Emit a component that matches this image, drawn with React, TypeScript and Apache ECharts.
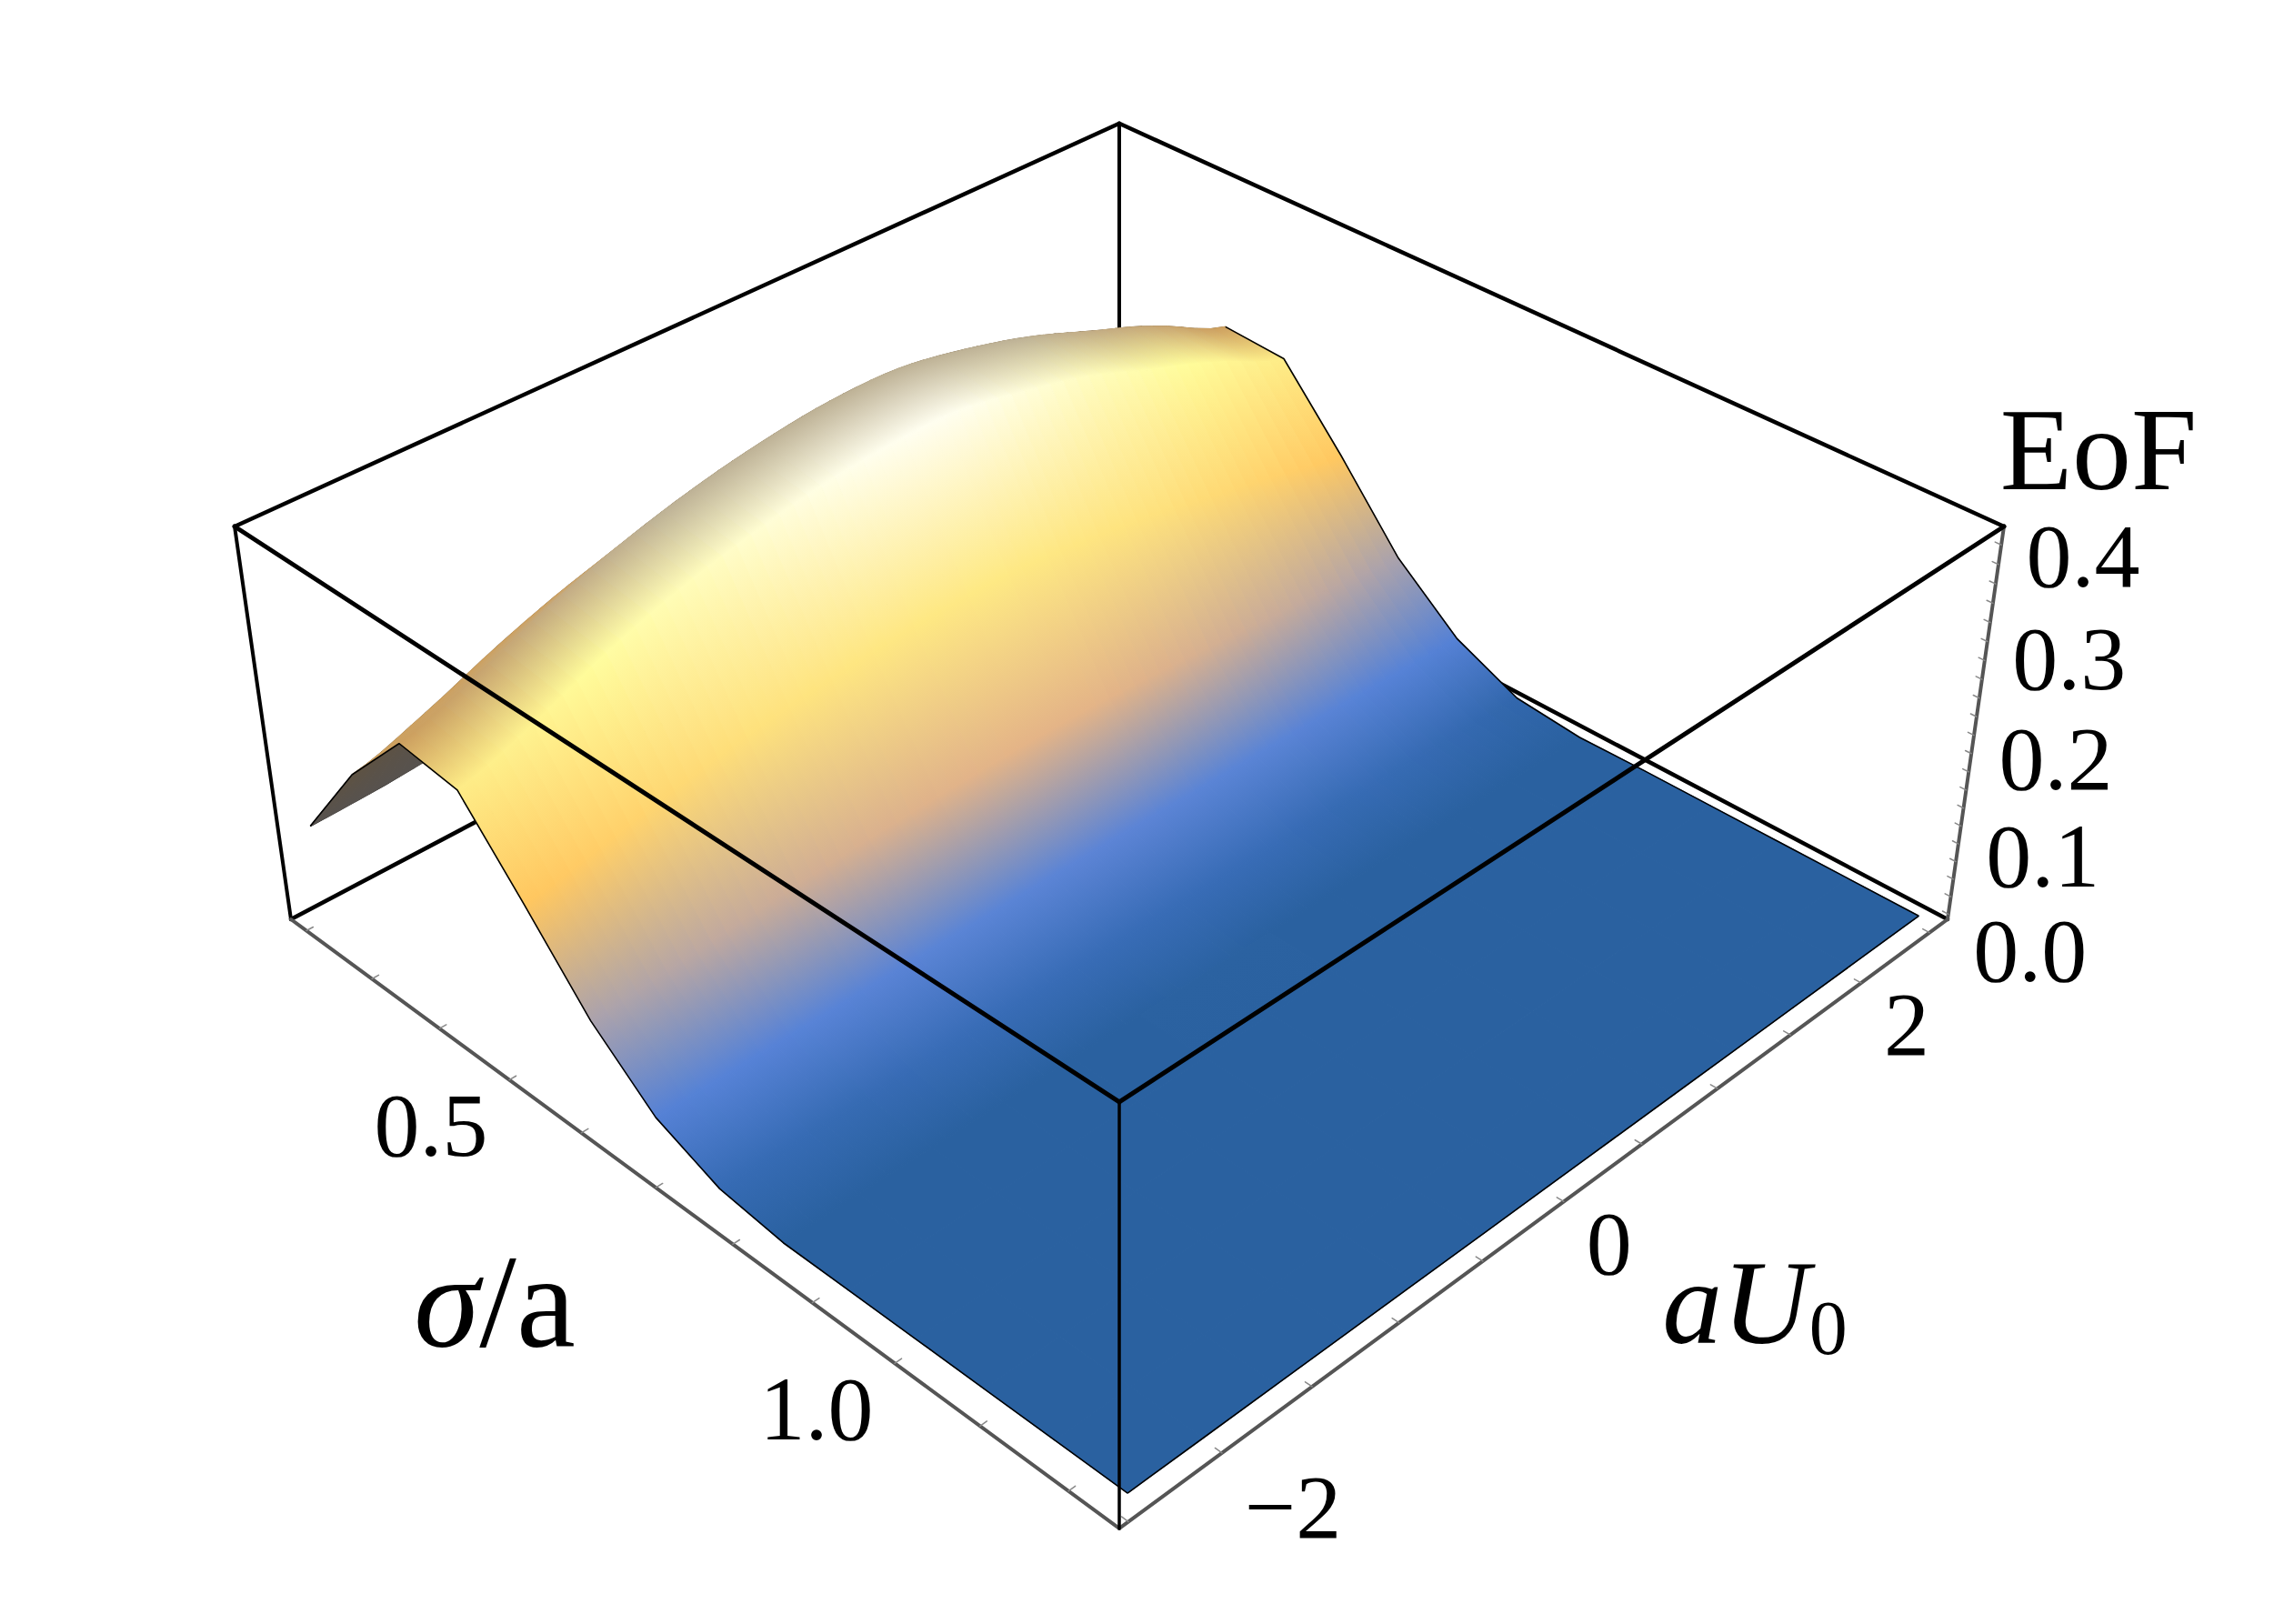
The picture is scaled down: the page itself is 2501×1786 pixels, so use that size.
import React, { useEffect, useRef } from "react";
import * as echarts from "echarts";

const sigmaValues = [0.215, 0.295, 0.375, 0.455, 0.535, 0.615, 0.695, 0.775, 0.855, 0.935, 1.015, 1.095, 1.175, 1.255];
const aU0Values = [-2.5, -2.1, -1.7, -1.3, -0.9, -0.5, -0.1, 0.3, 0.7, 1.1, 1.5, 1.9, 2.4];
const eofRows = [
  [0.115, 0.118, 0.125, 0.14, 0.16, 0.18, 0.19, 0.19, 0.18, 0.165, 0.145, 0.125, 0.115],
  [0.212, 0.237, 0.268, 0.294, 0.312, 0.325, 0.332, 0.332, 0.319, 0.301, 0.276, 0.25, 0.212],
  [0.285, 0.312, 0.345, 0.372, 0.392, 0.406, 0.414, 0.4135, 0.4, 0.38, 0.353, 0.325, 0.283],
  [0.277, 0.303, 0.336, 0.362, 0.381, 0.395, 0.402, 0.402, 0.388, 0.37, 0.343, 0.317, 0.279],
  [0.2, 0.215, 0.233, 0.248, 0.258, 0.266, 0.27, 0.27, 0.262, 0.252, 0.237, 0.222, 0.202],
  [0.12, 0.126, 0.134, 0.14, 0.145, 0.148, 0.15, 0.15, 0.147, 0.142, 0.136, 0.13, 0.119],
  [0.062, 0.063, 0.064, 0.065, 0.066, 0.066, 0.067, 0.067, 0.066, 0.066, 0.065, 0.063, 0.062],
  [0.033, 0.033, 0.033, 0.034, 0.034, 0.034, 0.034, 0.034, 0.034, 0.033, 0.033, 0.032, 0.03],
  [0.024, 0.025, 0.025, 0.025, 0.025, 0.025, 0.026, 0.025, 0.025, 0.025, 0.024, 0.024, 0.023],
  [0.024, 0.024, 0.024, 0.024, 0.024, 0.024, 0.024, 0.024, 0.024, 0.024, 0.024, 0.024, 0.024],
  [0.024, 0.024, 0.024, 0.024, 0.024, 0.024, 0.024, 0.024, 0.024, 0.024, 0.024, 0.024, 0.024],
  [0.024, 0.024, 0.024, 0.024, 0.024, 0.024, 0.024, 0.024, 0.024, 0.024, 0.024, 0.024, 0.024],
  [0.024, 0.024, 0.024, 0.024, 0.024, 0.024, 0.024, 0.024, 0.024, 0.024, 0.024, 0.024, 0.024],
  [0.024, 0.024, 0.024, 0.024, 0.024, 0.024, 0.024, 0.024, 0.024, 0.024, 0.024, 0.024, 0.024],
];
const sigmaTicks = [0.2, 0.3, 0.4, 0.5, 0.6, 0.7, 0.8, 0.9, 1.0, 1.1, 1.2];
const sigmaLabels = ["0.5", "1.0"];
const aU0Ticks = [-2.5, -2, -1.5, -1, -0.5, 0, 0.5, 1, 1.5, 2, 2.5];
const aU0Labels = ["\u22122", "0", "2"];
const eofTicks = [0, 0.02, 0.04, 0.06, 0.08, 0.1, 0.12, 0.14, 0.16, 0.18, 0.2, 0.22, 0.24, 0.26, 0.28, 0.3, 0.32, 0.34, 0.36, 0.38, 0.4];
const eofLabels = ["0.0", "0.1", "0.2", "0.3", "0.4"];

// colour ramp: [EoF, r, g, b]
const ramp = [
  [0.025, 42, 97, 160],
  [0.034, 56, 108, 182],
  [0.063, 86, 130, 214],
  [0.09, 125, 145, 205],
  [0.12, 170, 162, 172],
  [0.15, 228, 180, 135],
  [0.2, 255, 198, 95],
  [0.25, 254, 225, 125],
  [0.28, 254, 236, 135],
  [0.33, 255, 252, 155],
  [0.37, 255, 252, 190],
  [0.4, 255, 254, 235],
  [0.415, 255, 255, 255],
];
const rimEnd = [205, 160, 95];
const rimMid = [190, 178, 150];
const underColors = [[87, 82, 78], [94, 82, 66], [111, 88, 54]];

const SERIF = '"Liberation Serif", "DejaVu Serif", serif';

// box projection
const g = -0.165;
const k = -0.0637;
function projUVZ(u: number, v: number, z: number): [number, number] {
  const d = u - v;
  const W = 1 + g * d + k * z;
  const X = 320 + 707.9 * u + 1114.1 * v - 78.4 * z;
  const Y = 1011 + 392.6 * d - 468.9 * z;
  return [X / W, Y / W];
}
const uOf = (s: number) => (s - 0.176) / 1.08;
const vOf = (a: number) => (a + 2.548) / 5.183;
const zOf = (w: number) => 0.014 + 2.355 * w;
const proj = (s: number, a: number, w: number) => projUVZ(uOf(s), vOf(a), zOf(w));

function rampColor(w: number): number[] {
  if (w <= ramp[0][0]) return ramp[0].slice(1);
  for (let n = 1; n < ramp.length; n++) {
    if (w <= ramp[n][0]) {
      const t = (w - ramp[n - 1][0]) / (ramp[n][0] - ramp[n - 1][0]);
      return [1, 2, 3].map((c) => ramp[n - 1][c] + t * (ramp[n][c] - ramp[n - 1][c]));
    }
  }
  return ramp[ramp.length - 1].slice(1);
}
const rgb = (c: number[]) => `rgb(${Math.round(c[0])},${Math.round(c[1])},${Math.round(c[2])})`;
const mix = (a: number[], b: number[]) => a.map((x, n) => (x + b[n]) / 2);

const vertex = (i: number, j: number) => proj(sigmaValues[i], aU0Values[j], eofRows[i][j]);

// Shading between the read columns: a Gouraud-like sub-strip of one cell.
function eofAt(i: number, j: number, t: number) {
  const r = eofRows[i];
  const n = r.length - 1;
  const p0 = r[Math.max(j - 1, 0)];
  const p1 = r[j];
  const p2 = r[j + 1];
  const p3 = r[Math.min(j + 2, n)];
  return 0.5 * (2 * p1 + (p2 - p0) * t + (2 * p0 - 5 * p1 + 4 * p2 - p3) * t * t + (3 * p1 - p0 - 3 * p2 + p3) * t * t * t);
}
const colourOf = (i: number, w: number) => {
  if (i > 2) return rampColor(w);
  const f = Math.min(1, Math.max(0, (w - 0.285) / 0.1));
  return rimEnd.map((c, n) => c + f * (rimMid[n] - c));
};

const cells: number[][] = [];
for (let i = 0; i < sigmaValues.length - 1; i++) {
  for (let j = aU0Values.length - 2; j >= 0; j--) cells.push([i, j]);
}

function renderCell(params: any, api: any) {
  const [i, j] = cells[params.dataIndex];
  const steps = i < 8 ? 5 : 1;
  const children: any[] = [];
  for (let s = steps - 1; s >= 0; s--) {
    const t0 = s / steps;
    const t1 = (s + 1) / steps;
    const a0 = aU0Values[j] + t0 * (aU0Values[j + 1] - aU0Values[j]);
    const a1 = aU0Values[j] + t1 * (aU0Values[j + 1] - aU0Values[j]);
    const wa = eofAt(i, j, t0);
    const wb = eofAt(i + 1, j, t0);
    const wc = eofAt(i + 1, j, t1);
    const wd = eofAt(i, j, t1);
    const a = api.coord(proj(sigmaValues[i], a0, wa));
    const b = api.coord(proj(sigmaValues[i + 1], a0, wb));
    const c = api.coord(proj(sigmaValues[i + 1], a1, wc));
    const d = api.coord(proj(sigmaValues[i], a1, wd));
    const q = [a, b, c, d];
    let area = 0;
    for (let n = 0; n < 4; n++) {
      const p0 = q[n];
      const p1 = q[(n + 1) % 4];
      area += p0[0] * p1[1] - p1[0] * p0[1];
    }
    const back = area > 0;
    const c0 = back ? underColors[Math.min(i, 2)] : mix(colourOf(i, wa), colourOf(i, wd));
    const c1 = back ? underColors[Math.min(i + 1, 2)] : mix(colourOf(i + 1, wb), colourOf(i + 1, wc));
    const m0 = [(a[0] + d[0]) / 2, (a[1] + d[1]) / 2];
    const m1 = [(b[0] + c[0]) / 2, (b[1] + c[1]) / 2];
    const ex = d[0] - a[0];
    const ey = d[1] - a[1];
    const len = Math.hypot(ex, ey) || 1;
    const nx = -ey / len;
    const ny = ex / len;
    const dot = (m1[0] - m0[0]) * nx + (m1[1] - m0[1]) * ny;
    const grad = new echarts.graphic.LinearGradient(
      m0[0], m0[1], m0[0] + nx * dot, m0[1] + ny * dot,
      [{ offset: 0, color: rgb(c0) }, { offset: 1, color: rgb(c1) }],
      true
    );
    children.push({
      type: "polygon",
      shape: { points: q },
      style: { fill: grad, stroke: grad, lineWidth: 1.2 },
    });
  }
  return { type: "group", children };
}

type Seg = { a: number[]; b: number[]; color: string; width: number };
const corner = (u: number, v: number, z: number) => projUVZ(u, v, z);
const backLines: Seg[] = [
  { a: corner(0, 0, 0), b: corner(0, 1, 0), color: "#000", width: 4.5 },
  { a: corner(1, 1, 0), b: corner(0, 1, 0), color: "#000", width: 4.5 },
  { a: corner(0, 1, 0), b: corner(0, 1, 1), color: "#000", width: 4 },
  { a: corner(0, 0, 1), b: corner(0, 1, 1), color: "#000", width: 4.5 },
  { a: corner(1, 1, 1), b: corner(0, 1, 1), color: "#000", width: 4.5 },
  { a: corner(0, 0, 0), b: corner(0, 0, 1), color: "#000", width: 4 },
];
const axisLines: Seg[] = [
  { a: corner(0, 0, 0), b: corner(1, 0, 0), color: "#555555", width: 4 },
  { a: corner(1, 0, 0), b: corner(1, 1, 0), color: "#555555", width: 4 },
  { a: corner(1, 1, 0), b: corner(1, 1, 1), color: "#555555", width: 4 },
];
sigmaTicks.forEach((s) => {
  axisLines.push({ a: corner(uOf(s), 0, 0), b: corner(uOf(s), 0.007, 0), color: "#888", width: 1.5 });
});
aU0Ticks.forEach((t) => {
  axisLines.push({ a: corner(1, vOf(t), 0), b: corner(0.993, vOf(t), 0), color: "#888", width: 1.5 });
});
eofTicks.forEach((w) => {
  axisLines.push({ a: corner(1, 1, zOf(w)), b: corner(0.994, 1, zOf(w)), color: "#888", width: 1.5 });
});
const frontLines: Seg[] = [
  { a: corner(0, 0, 1), b: corner(1, 0, 1), color: "#000", width: 5 },
  { a: corner(1, 1, 1), b: corner(1, 0, 1), color: "#000", width: 5 },
  { a: corner(1, 0, 0), b: corner(1, 0, 1), color: "#000", width: 3.5 },
];
const renderSeg = (segs: Seg[]) => (params: any, api: any) => {
  const s = segs[params.dataIndex];
  const a = api.coord(s.a);
  const b = api.coord(s.b);
  return {
    type: "line",
    shape: { x1: a[0], y1: a[1], x2: b[0], y2: b[1] },
    style: { stroke: s.color, lineWidth: s.width, lineCap: "round" },
  };
};

const rowsIdx = sigmaValues.map((_, i) => i);
const colsIdx = aU0Values.map((_, j) => j);
const outlines: number[][][] = [
  rowsIdx.map((i) => vertex(i, 0)),
  rowsIdx.filter((i) => i >= 2).map((i) => vertex(i, aU0Values.length - 1)),
  colsIdx.map((j) => vertex(sigmaValues.length - 1, j)),
];
const underEdge: number[][][] = [colsIdx.map((j) => vertex(0, j))];
const renderOutline = (paths: number[][][]) => (params: any, api: any) => ({
  type: "polyline",
  shape: { points: paths[params.dataIndex].map((p) => api.coord(p)) },
  style: { fill: "none", stroke: "#000", lineWidth: 1.6, lineJoin: "round" },
});

type Lab = { at: number[]; text: string; size: number; rich?: any };
const labels: Lab[] = [];
sigmaLabels.forEach((t) => {
  const p = corner(uOf(Number(t)), 0, 0);
  labels.push({ at: [p[0] - 86, p[1] + 50], text: t, size: 100 });
});
aU0Labels.forEach((t) => {
  const val = Number(t.replace("\u2212", "-"));
  const p = corner(1, vOf(val), 0);
  labels.push({ at: [p[0] + (val < 0 ? 78 : 50), p[1] + (val < 0 ? 60 : 46)], text: t, size: 100 });
});
eofLabels.forEach((t) => {
  const w = Number(t);
  const p = corner(1, 1, zOf(w));
  labels.push({ at: [p[0] + 90, p[1] + 40 - 70 * w], text: t, size: 100 });
});
labels.push({ at: [2308, 494], text: "EoF", size: 130 });
labels.push({
  at: [544, 1432],
  text: "{i|\u03c3}{n|/a}",
  size: 146,
  rich: {
    i: { fontFamily: SERIF, fontStyle: "italic", fontSize: 146, fill: "#000" },
    n: { fontFamily: SERIF, fontSize: 146, fill: "#000" },
  },
});
labels.push({
  at: [1930, 1432],
  text: "{i|aU}{s|0}",
  size: 132,
  rich: {
    i: { fontFamily: SERIF, fontStyle: "italic", fontSize: 132, fill: "#000", verticalAlign: "bottom" },
    s: { fontFamily: SERIF, fontSize: 84, fill: "#000", verticalAlign: "bottom", padding: [0, 0, -4, 0] },
  },
});
const renderLabel = (params: any, api: any) => {
  const l = labels[params.dataIndex];
  const p = api.coord(l.at);
  return {
    type: "text",
    x: p[0],
    y: p[1],
    style: {
      text: l.text,
      fontFamily: SERIF,
      fontSize: l.size,
      fill: "#000",
      align: "center",
      verticalAlign: "middle",
      ...(l.rich ? { rich: l.rich } : {}),
    },
  };
};

const segSeries = (segs: Seg[], z: number) => ({
  type: "custom",
  coordinateSystem: "cartesian2d",
  clip: false,
  silent: true,
  z,
  data: segs.map((_, n) => [n]),
  encode: { x: 0, y: 0 },
  renderItem: renderSeg(segs),
});

export default function App() {
  const ref = useRef<HTMLDivElement>(null);
  useEffect(() => {
    document.body.style.margin = "0";
    document.body.style.overflow = "hidden";
    document.body.style.background = "#fff";
    const chart = echarts.init(ref.current!, undefined, { renderer: "svg" });
    chart.setOption({
      animation: false,
      backgroundColor: "#ffffff",
      grid: { left: 0, right: 0, top: 0, bottom: 0 },
      xAxis: { type: "value", min: 0, max: 2501, show: false },
      yAxis: { type: "value", min: 0, max: 1786, inverse: true, show: false },
      tooltip: { show: false },
      series: [
        segSeries(backLines, 1),
        {
          type: "custom",
          coordinateSystem: "cartesian2d",
          clip: false,
          silent: true,
          z: 2,
          data: underEdge.map((_, n) => [n]),
          encode: { x: 0, y: 0 },
          renderItem: renderOutline(underEdge),
        },
        {
          type: "custom",
          coordinateSystem: "cartesian2d",
          clip: false,
          silent: true,
          z: 3,
          data: cells,
          encode: { x: 0, y: 1 },
          renderItem: renderCell,
        },
        {
          type: "custom",
          coordinateSystem: "cartesian2d",
          clip: false,
          silent: true,
          z: 4,
          data: outlines.map((_, n) => [n]),
          encode: { x: 0, y: 0 },
          renderItem: renderOutline(outlines),
        },
        segSeries(axisLines, 4),
        segSeries(frontLines, 5),
        {
          type: "custom",
          coordinateSystem: "cartesian2d",
          clip: false,
          silent: true,
          z: 6,
          data: labels.map((_, n) => [n]),
          encode: { x: 0, y: 0 },
          renderItem: renderLabel,
        },
      ],
    });
    return () => chart.dispose();
  }, []);
  return <div ref={ref} style={{ position: "absolute", left: 0, top: 0, width: 2501, height: 1786 }} />;
}
